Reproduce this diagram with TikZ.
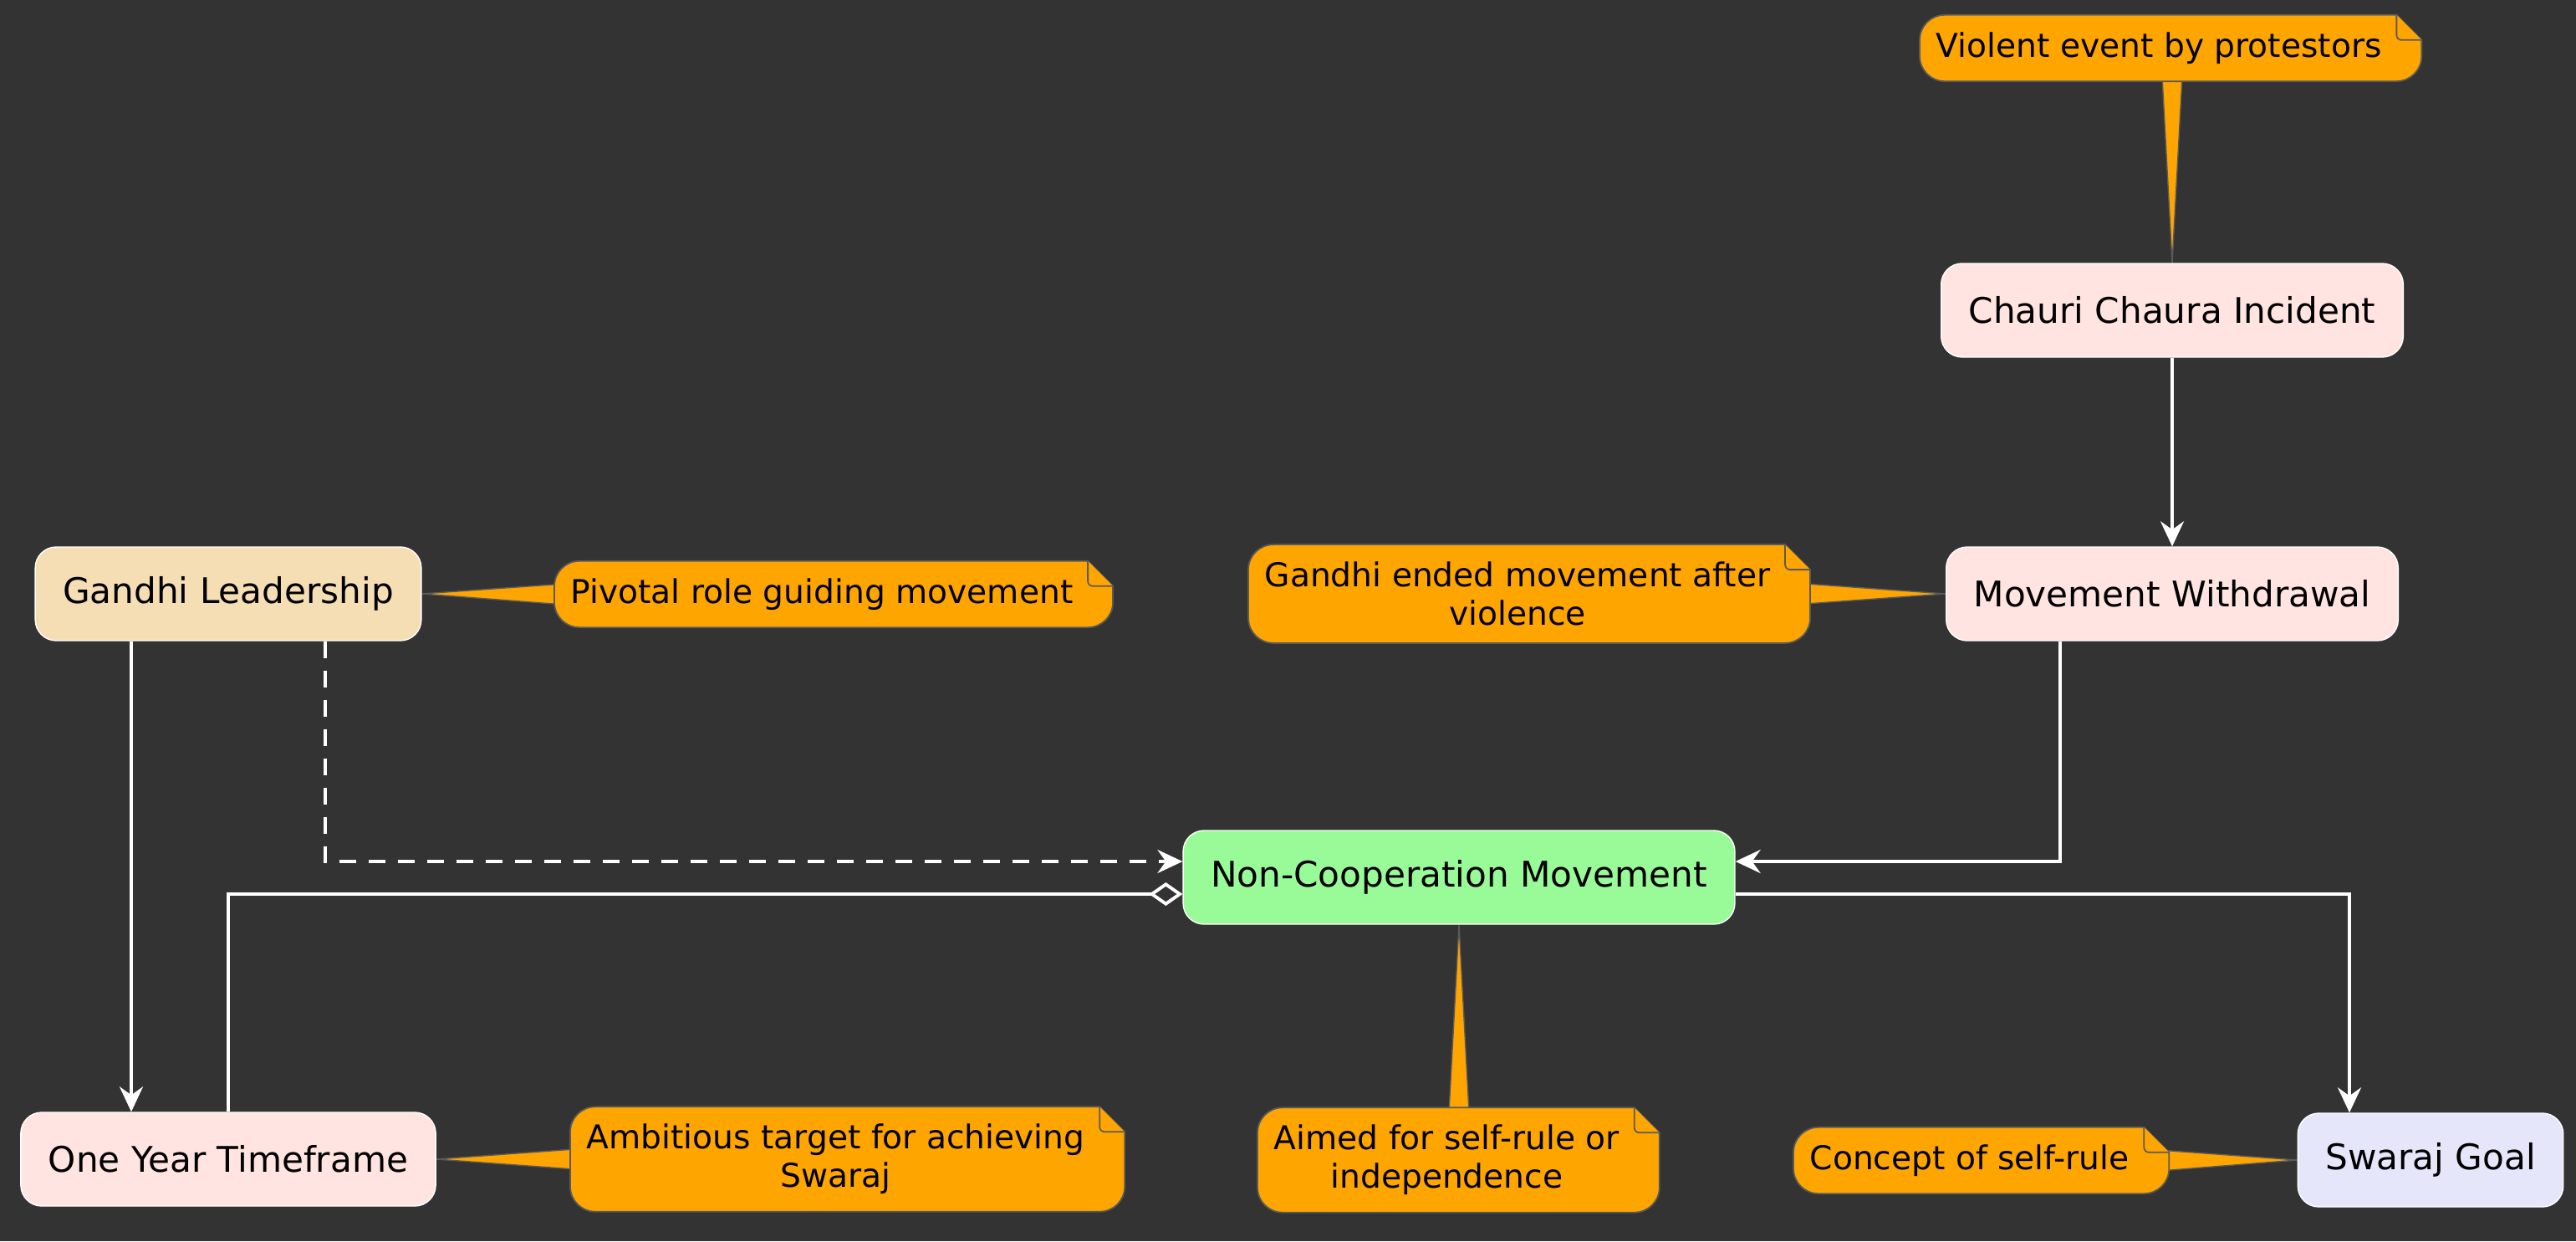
\documentclass[tikz,border=0pt]{standalone}
\usepackage{fontspec}
\setmainfont{DejaVu Sans}
\usetikzlibrary{arrows.meta, positioning, calc, backgrounds}
\definecolor{canvas}{HTML}{333333}
\definecolor{notefill}{HTML}{FFA500}
\definecolor{noteline}{HTML}{5A5A5A}
\definecolor{rose}{HTML}{FFE4E1}
\definecolor{wheat}{HTML}{F5DEB3}
\definecolor{palegreen}{HTML}{98FB98}
\definecolor{lavender}{HTML}{E6E6FA}

% note body: rounded box with folded top-right corner
\newcommand{\notebody}[1]{%
  \coordinate (#1-nw) at (#1.north west);
  \coordinate (#1-sw) at (#1.south west);
  \coordinate (#1-ne) at ($(#1.north east)+(0.28,0)$);
  \coordinate (#1-se) at ($(#1.south east)+(0.28,0)$);
  \draw[notebox] ($(#1-ne)+(-0.3,0)$) -- ($(#1-nw)+(0.3,0)$)
    arc[start angle=90, end angle=180, radius=0.3] -- ($(#1-sw)+(0,0.3)$)
    arc[start angle=180, end angle=270, radius=0.3] -- ($(#1-se)+(-0.3,0)$)
    arc[start angle=270, end angle=360, radius=0.3] -- ($(#1-ne)+(0,-0.3)$) -- cycle;
  \draw[notebox, rounded corners=0.06cm] ($(#1-ne)+(-0.3,0)$) |- ($(#1-ne)+(0,-0.3)$);
}

\begin{document}
\begin{tikzpicture}[
    box/.style={draw=white, line width=0.4pt, rounded corners=0.25cm, minimum height=1.12cm,
      inner xsep=0.33cm, font=\fontsize{12}{14}\selectfont},
    note/.style={anchor=west, align=center, inner xsep=0.19cm, inner ysep=0.2cm,
      font=\fontsize{11.15}{13.1}\selectfont},
    notebox/.style={fill=notefill, draw=noteline, line width=0.5pt},
    tail/.style={fill=notefill, draw=noteline, line width=0.4pt},
    link/.style={draw=white, line width=1.1pt, -{Stealth[length=0.3cm, width=0.28cm, inset=0.1cm]}}
  ]
  \useasboundingbox (0,0) rectangle (30.81,-14.84);

  % elements
  \node[box, fill=rose] (chauri) at (25.98,-3.71) {Chauri Chaura Incident};
  \node[box, fill=rose] (withdrawal) at (25.98,-7.10) {Movement Withdrawal};
  \node[box, fill=wheat] (gandhi) at (2.73,-7.10) {Gandhi Leadership};
  \node[box, fill=palegreen] (noncoop) at (17.45,-10.49) {Non-Cooperation Movement};
  \node[box, fill=rose] (oneyear) at (2.73,-13.86) {One Year Timeframe};
  \node[box, fill=lavender] (swaraj) at (29.07,-13.87) {Swaraj Goal};

  % notes
  \node[note] (nViolent) at (22.96,-0.575) {Violent event by protestors};
  \node[note] (nEnded) at (14.93,-7.10) {Gandhi ended movement after\\violence};
  \node[note] (nPivotal) at (6.63,-7.105) {Pivotal role guiding movement};
  \node[note] (nAimed) at (15.04,-13.87) {Aimed for self-rule or\\independence};
  \node[note] (nAmbitious) at (6.82,-13.86) {Ambitious target for achieving\\Swaraj};
  \node[note] (nConcept) at (21.45,-13.875) {Concept of self-rule};

  \begin{scope}[on background layer]
    \fill[canvas] (0,0) rectangle (30.81,-14.84);
    % tails
    \coordinate (b1) at ($(nViolent.south west)!(chauri.north)!(nViolent.south east)$);
    \filldraw[tail] (chauri.north) -- ($(b1)+(-0.12,0.05)$) -- ($(b1)+(0.12,0.05)$) -- cycle;
    \coordinate (b2) at ($(nEnded.east)+(0.28,0)$);
    \filldraw[tail] (withdrawal.west) -- ($(b2)+(-0.05,0.12)$) -- ($(b2)+(-0.05,-0.12)$) -- cycle;
    \filldraw[tail] (gandhi.east) -- ($(nPivotal.west)+(0.05,0.12)$) -- ($(nPivotal.west)+(0.05,-0.12)$) -- cycle;
    \coordinate (b4) at ($(nAimed.north west)!(noncoop.south)!(nAimed.north east)$);
    \filldraw[tail] (noncoop.south) -- ($(b4)+(-0.12,-0.05)$) -- ($(b4)+(0.12,-0.05)$) -- cycle;
    \filldraw[tail] (oneyear.east) -- ($(nAmbitious.west)+(0.05,0.12)$) -- ($(nAmbitious.west)+(0.05,-0.12)$) -- cycle;
    \coordinate (b6) at ($(nConcept.east)+(0.28,0)$);
    \filldraw[tail] (swaraj.west) -- ($(b6)+(-0.05,0.12)$) -- ($(b6)+(-0.05,-0.12)$) -- cycle;
    % bodies
    \foreach \n in {nViolent, nEnded, nPivotal, nAimed, nAmbitious, nConcept} {\notebody{\n}}
  \end{scope}

  % connectors
  \draw[link] (chauri) -- (withdrawal);
  \draw[link] ($(withdrawal.south)+(-1.34,0)$) |- ($(noncoop.east)+(0,0.19)$);
  \draw[link] ($(gandhi.south)+(-1.16,0)$) -- ($(oneyear.north)+(-1.16,0)$);
  \draw[link, dash pattern=on 0.2cm off 0.15cm] ($(gandhi.south)+(1.16,0)$) |- ($(noncoop.west)+(0,0.19)$);
  \draw[draw=white, line width=1.1pt, -{Diamond[open, length=0.4cm, width=0.28cm]}] (oneyear.north) |- ($(noncoop.west)+(0,-0.2)$);
  \draw[link] ($(noncoop.east)+(0,-0.2)$) -| ($(swaraj.north)+(-0.97,0)$);
\end{tikzpicture}
\end{document}
